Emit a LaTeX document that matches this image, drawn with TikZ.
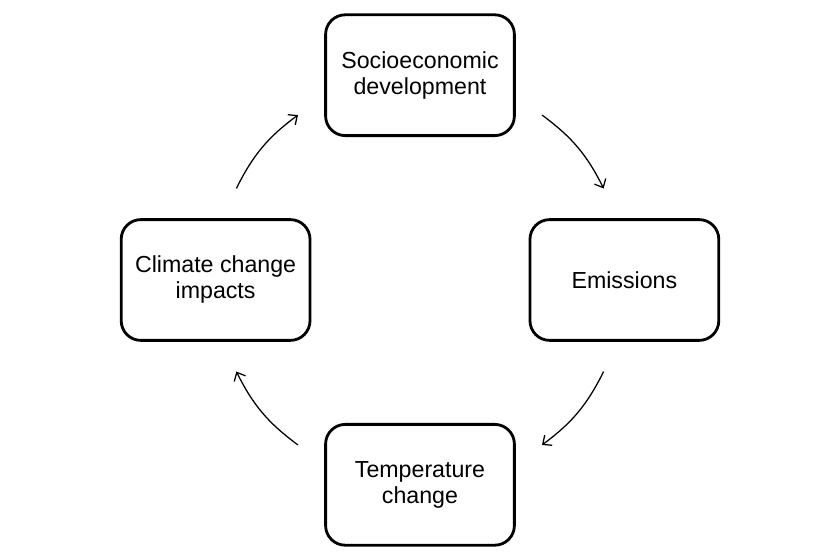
\documentclass[tikz,border=0pt]{standalone}
\usepackage{fontspec}
\setmainfont{Liberation Sans}
\usepackage{tikz}
\usetikzlibrary{arrows.meta,positioning,calc}

\begin{document}
\begin{tikzpicture}[box/.style={draw, line width=2pt, rounded corners=14pt, minimum width=4.72cm, minimum height=3.02cm, align=center, font=\fontsize{16.5}{18.5}\selectfont},
    flow/.style={-{Straight Barb[length=5pt, width=9pt]}, line width=0.9pt}]
    \useasboundingbox (-10.5,-7) rectangle (10.5,7);
    \coordinate (c) at (0,0);
    \node[box] (socio) at (0,5.12)  {Socioeconomic\\development};
    \node[box] (emis)  at (5.11,0)  {Emissions};
    \node[box] (temp)  at (0,-5.12) {Temperature\\change};
    \node[box] (impact) at (-5.11,0) {Climate change\\impacts};
    % arrow ends on a circle round the centre
    \coordinate (a1) at ($(c)+(53.5:5.13)$);
    \coordinate (b1) at ($(c)+(26.5:5.13)$);
    \coordinate (a2) at ($(c)+(-26.5:5.13)$);
    \coordinate (b2) at ($(c)+(-53.5:5.13)$);
    \coordinate (a3) at ($(c)+(-126.5:5.13)$);
    \coordinate (b3) at ($(c)+(-153.5:5.13)$);
    \coordinate (a4) at ($(c)+(153.5:5.13)$);
    \coordinate (b4) at ($(c)+(126.5:5.13)$);
    \draw[flow] (a1) to[bend left=13.5] (b1);
    \draw[flow] (a2) to[bend left=13.5] (b2);
    \draw[flow] (a3) to[bend left=13.5] (b3);
    \draw[flow] (a4) to[bend left=13.5] (b4);
\end{tikzpicture}
\end{document}
